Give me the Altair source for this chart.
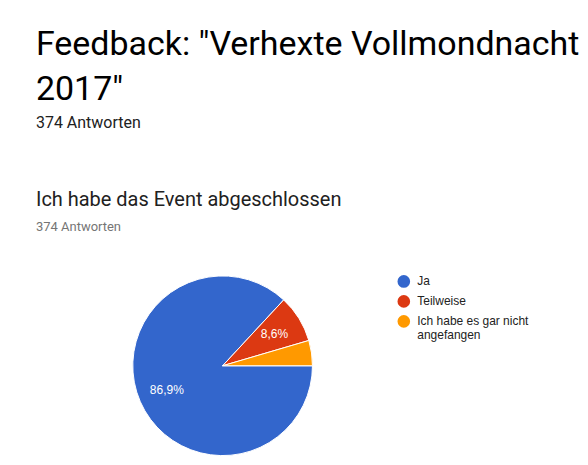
import altair as alt
import pandas as pd
import math

# Data
answers = ["Ja", "Teilweise", "Ich habe es gar nicht angefangen"]
counts = [325, 32, 17]
colors = ["#3366cc", "#dc3912", "#ff9900"]
total_responses = 374

df = pd.DataFrame({"antwort": answers, "anzahl": counts, "idx": list(range(len(answers)))})

base = alt.Chart(df).encode(
    theta=alt.Theta("anzahl:Q", stack=True,
                    scale=alt.Scale(range=[math.pi / 2, math.pi / 2 + 2 * math.pi])),
    order=alt.Order("idx:Q"),
)

arcs = base.mark_arc(outerRadius=90, stroke="white", strokeWidth=1).encode(
    color=alt.Color(
        "antwort:N",
        scale=alt.Scale(domain=answers, range=colors),
        sort=answers,
        legend=alt.Legend(
            title=None, orient="none", legendX=362, legendY=-1,
            symbolType="circle", symbolSize=160, symbolOpacity=1, symbolStrokeWidth=0,
            labelFont="Liberation Sans", labelFontSize=12, labelColor="#222222",
            labelLimit=300, labelOffset=7, rowPadding=7,
            labelExpr="datum.label == 'Ich habe es gar nicht angefangen' ? ['Ich habe es gar nicht', 'angefangen'] : datum.label",
        ),
    )
)

labels = base.transform_joinaggregate(
    gesamt="sum(anzahl)"
).transform_calculate(
    lbl="datum.anzahl / datum.gesamt >= 0.06 ? replace(format(datum.anzahl / datum.gesamt, '.1%'), '.', ',') : ''",
).mark_text(radius=61, font="Liberation Sans", fontSize=12).encode(
    text="lbl:N",
    color=alt.value("white"),
)

pie = (arcs + labels).properties(
    width=374, height=180,
    title=alt.TitleParams(
        text="Ich habe das Event abgeschlossen",
        subtitle=f"{total_responses} Antworten",
        font="Roboto", fontSize=20, fontWeight="normal", color="#212121",
        subtitleFont="Roboto", subtitleFontSize=13, subtitleColor="#757575",
        subtitlePadding=11, anchor="start", offset=40,
    ),
)

chart = alt.vconcat(pie).properties(
    title=alt.TitleParams(
        text=['Feedback: "Verhexte Vollmondnacht', '2017"'],
        subtitle=f"{total_responses} Antworten",
        font="Roboto", fontSize=34, fontWeight="normal", color="#000000",
        lineHeight=45,
        subtitleFont="Roboto", subtitleFontSize=16, subtitleColor="#212121",
        subtitlePadding=8, anchor="start", offset=59,
    ),
    padding={"left": 28, "top": 20, "right": 0, "bottom": 0},
).configure_view(stroke=None)

chart.save("out.html", embed_options={"renderer": "svg", "actions": False})
